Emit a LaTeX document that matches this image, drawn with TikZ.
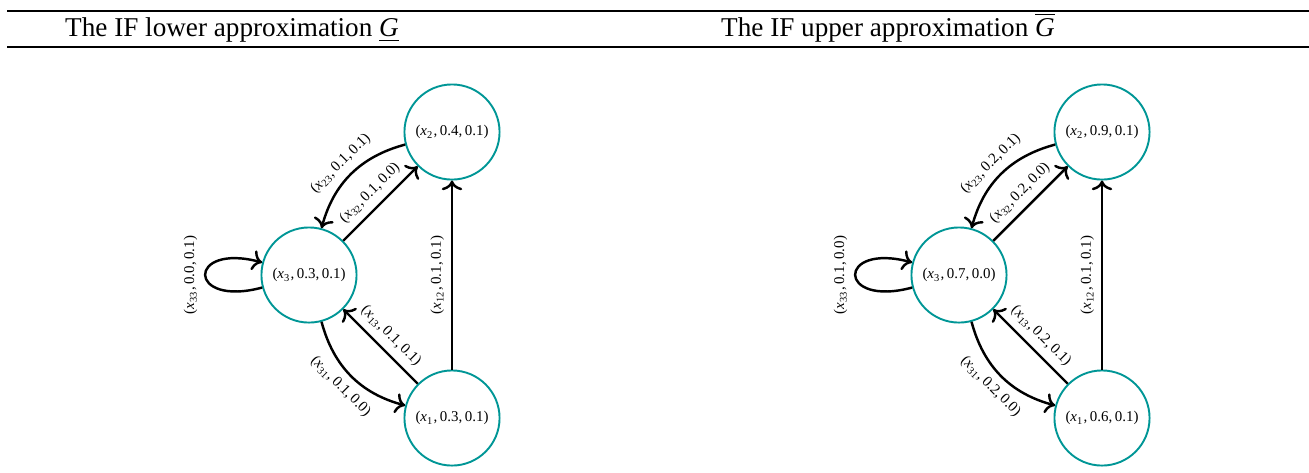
\documentclass[tikz,border=0pt]{standalone}
\usepackage{fontspec}
\setmainfont{Liberation Serif}
\usetikzlibrary{arrows.meta}
\definecolor{nodeteal}{RGB}{0,150,150}
\newcommand{\ifv}[3]{(\textit{x}\textsubscript{#1},\,#2,\,#3)}

\begin{document}
\begin{tikzpicture}[x=0.368pt, y=-0.368pt,
  vert/.style={circle, draw=nodeteal, line width=0.7pt, minimum size=35pt, inner sep=0pt, font=\fontsize{5.5}{6.5}\selectfont},
  arr/.style={->, line width=0.9pt},
  elab/.style={midway, sloped, font=\fontsize{5.5}{6.5}\selectfont, inner sep=2.5pt},
  rule/.style={line width=0.5pt}
]
\useasboundingbox (0,0) rectangle (1309,472);
% table head
\draw[rule] (7,11) -- (1309,11);
\draw[rule, line width=0.6pt] (7,47) -- (1309,47);
\node[anchor=base] (hl) at (232,36) {The IF lower approximation \underline{\textit{G}}};
\node[anchor=base] (hr) at (888,36) {The IF upper approximation $\overline{\hbox{\textit{G}}}$};

% lower approximation
\node[vert] (l1) at (452,418) {\ifv{1}{0.3}{0.1}};
\node[vert] (l2) at (452,132) {\ifv{2}{0.4}{0.1}};
\node[vert] (l3) at (309,275) {\ifv{3}{0.3}{0.1}};
\draw[arr] (l1) -- node[elab, above] {\ifv{12}{0.1}{0.1}} (l2);
\draw[arr] (l3) -- node[elab, above] {\ifv{32}{0.1}{0.0}} (l2);
\draw[arr] (l2) to[bend right=30] node[elab, above] {\ifv{23}{0.1}{0.1}} (l3);
\draw[arr] (l1) -- node[elab, above] {\ifv{13}{0.1}{0.1}} (l3);
\draw[arr] (l3) to[bend right=30] node[elab, below] {\ifv{31}{0.1}{0.0}} (l1);
\draw[arr] (l3) to[loop left, looseness=8] node[elab, above] {\ifv{33}{0.0}{0.1}} (l3);

% upper approximation
\node[vert] (r1) at (1102,418) {\ifv{1}{0.6}{0.1}};
\node[vert] (r2) at (1102,132) {\ifv{2}{0.9}{0.1}};
\node[vert] (r3) at (959,275) {\ifv{3}{0.7}{0.0}};
\draw[arr] (r1) -- node[elab, above] {\ifv{12}{0.1}{0.1}} (r2);
\draw[arr] (r3) -- node[elab, above] {\ifv{32}{0.2}{0.0}} (r2);
\draw[arr] (r2) to[bend right=30] node[elab, above] {\ifv{23}{0.2}{0.1}} (r3);
\draw[arr] (r1) -- node[elab, above] {\ifv{13}{0.2}{0.1}} (r3);
\draw[arr] (r3) to[bend right=30] node[elab, below] {\ifv{31}{0.2}{0.0}} (r1);
\draw[arr] (r3) to[loop left, looseness=8] node[elab, above] {\ifv{33}{0.1}{0.0}} (r3);
\end{tikzpicture}
\end{document}
